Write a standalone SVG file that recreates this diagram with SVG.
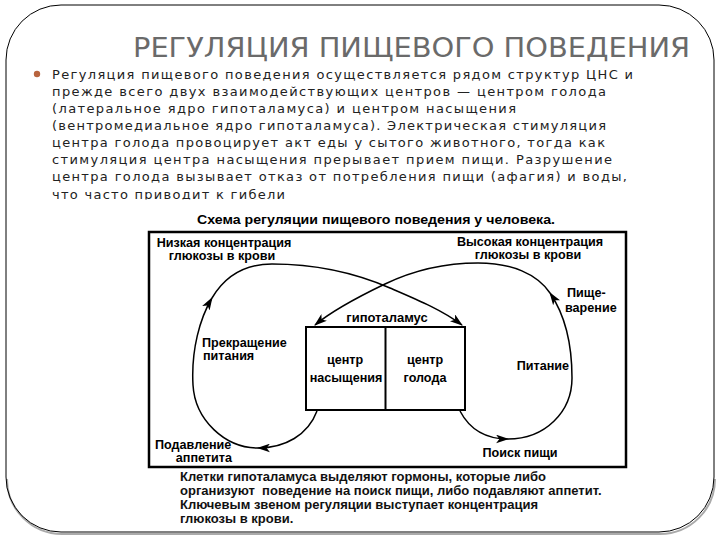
<svg xmlns="http://www.w3.org/2000/svg" width="720" height="540" viewBox="0 0 720 540">
<defs>
<style>
.body{font-family:"DejaVu Sans","Liberation Sans",sans-serif;font-size:13px;fill:#222}
.lbl{font-family:"Liberation Sans",Arial,sans-serif;font-size:12.6px;font-weight:bold;fill:#000}
.cap{font-family:"Liberation Sans",Arial,sans-serif;font-size:13px;font-weight:bold;fill:#111}
.curve{fill:none;stroke:#000;stroke-width:1.5}
.box{fill:#fff;stroke:#000;stroke-width:2}
</style>
<marker id="ah" viewBox="0 0 12 8" refX="11" refY="4" markerWidth="13" markerHeight="9" orient="auto" markerUnits="userSpaceOnUse">
<path d="M0,0 L12,4 L0,8 L3,4 z" fill="#000"/>
</marker>
<clipPath id="clipBody"><rect x="0" y="60" width="720" height="139.5"/></clipPath>
</defs>
<rect x="0" y="0" width="720" height="540" fill="#fff"/>
<g id="slide-frame">
<path d="M 6 477 A 55 55 0 0 0 61 532 L 659 532 A 55 55 0 0 0 714 477" transform="translate(1,2)" fill="none" stroke="#aaa" stroke-width="2"/>
<rect x="6" y="5" width="708" height="527" rx="55" ry="55" fill="none" stroke="#000" stroke-width="1"/>
</g>
<g id="title">
<text x="133" y="57" font-family="'Liberation Sans Narrow','DejaVu Sans Condensed','Liberation Sans',sans-serif" font-size="27" fill="#6a6a6a" textLength="557" lengthAdjust="spacingAndGlyphs">РЕГУЛЯЦИЯ ПИЩЕВОГО ПОВЕДЕНИЯ</text>
</g>
<g id="bullet-text" clip-path="url(#clipBody)">
<circle cx="37" cy="74" r="3.2" fill="#b8643e"/>
<text class="body" x="52" y="79" textLength="581" lengthAdjust="spacing">Регуляция пищевого поведения осуществляется рядом структур ЦНС и</text>
<text class="body" x="52" y="96" textLength="554" lengthAdjust="spacing">прежде всего двух взаимодействующих центров — центром голода</text>
<text class="body" x="52" y="113" textLength="464" lengthAdjust="spacing">(латеральное ядро гипоталамуса) и центром насыщения</text>
<text class="body" x="52" y="130" textLength="554" lengthAdjust="spacing">(вентромедиальное ядро гипоталамуса). Электрическая стимуляция</text>
<text class="body" x="52" y="147" textLength="553" lengthAdjust="spacing">центра голода провоцирует акт еды у сытого животного, тогда как</text>
<text class="body" x="52" y="164" textLength="560" lengthAdjust="spacing">стимуляция центра насыщения прерывает прием пищи. Разрушение</text>
<text class="body" x="52" y="181" textLength="575" lengthAdjust="spacing">центра голода вызывает отказ от потребления пищи (афагия) и воды,</text>
<text class="body" x="52" y="199" textLength="233" lengthAdjust="spacing">что часто приводит к гибели</text>
</g>
<g id="diagram-heading">
<text x="376" y="224" text-anchor="middle" font-family="'Liberation Sans',Arial,sans-serif" font-size="13" font-weight="bold" fill="#000" textLength="358" lengthAdjust="spacingAndGlyphs">Схема регуляции пищевого поведения у человека.</text>
</g>
<g id="diagram-frame">
<rect x="149" y="232" width="477" height="235" fill="none" stroke="#000" stroke-width="2.5"/>
</g>
<g id="connectors">
<path class="curve" d="M 317 411 C 308 435 285 448 258 448" marker-end="url(#ah)"/>
<path class="curve" d="M 258 448 C 225 448 195 420 193 385 C 191 350 200 318 212 298" marker-end="url(#ah)"/>
<path class="curve" d="M 212 298 C 225 276 245 264 272 264 C 320 264 360 275 390 288 C 418 300 442 310 462 325" marker-end="url(#ah)"/>
<path class="curve" d="M 460 411 C 470 430 487 439 508 439" marker-end="url(#ah)"/>
<path class="curve" d="M 508 439 C 545 439 572 412 572 378 C 572 340 563 312 550 293" marker-end="url(#ah)"/>
<path class="curve" d="M 550 293 C 537 274 512 263 478 263 C 440 263 410 272 385 284 C 360 296 333 310 315 325" marker-end="url(#ah)"/>
</g>
<g id="node-low-glucose">
<text class="lbl" x="224" y="247" text-anchor="middle">Низкая концентрация</text>
<text class="lbl" x="222" y="260" text-anchor="middle">глюкозы в крови</text>
</g>
<g id="node-high-glucose">
<text class="lbl" x="530" y="246" text-anchor="middle">Высокая концентрация</text>
<text class="lbl" x="528" y="259" text-anchor="middle">глюкозы в крови</text>
</g>
<g id="node-digestion">
<text class="lbl" x="567" y="297">Пище-</text>
<text class="lbl" x="565" y="312">варение</text>
</g>
<g id="node-hypothalamus">
<text x="387" y="322" text-anchor="middle" font-family="'Liberation Sans',Arial,sans-serif" font-size="13" font-weight="bold" fill="#000">гипоталамус</text>
<rect class="box" x="306" y="327" width="159" height="83"/>
<line x1="385.5" y1="327" x2="385.5" y2="410" stroke="#000" stroke-width="2"/>
</g>
<g id="node-satiety-center">
<text class="lbl" x="345" y="364" text-anchor="middle">центр</text>
<text class="lbl" x="346" y="382" text-anchor="middle">насыщения</text>
</g>
<g id="node-hunger-center">
<text class="lbl" x="425" y="364" text-anchor="middle">центр</text>
<text class="lbl" x="425" y="382" text-anchor="middle">голода</text>
</g>
<g id="node-stop-eating">
<text class="lbl" x="202" y="347">Прекращение</text>
<text class="lbl" x="203" y="360">питания</text>
</g>
<g id="node-eating">
<text class="lbl" x="569" y="370" text-anchor="end">Питание</text>
</g>
<g id="node-food-search">
<text class="lbl" x="520" y="457" text-anchor="middle">Поиск пищи</text>
</g>
<g id="node-appetite-suppression">
<text class="lbl" x="155" y="449" font-size="12">Подавление</text>
<text class="lbl" x="232" y="462" font-size="12" text-anchor="end">аппетита</text>
</g>
<g id="caption">
<text class="cap" x="180" y="481">Клетки гипоталамуса выделяют гормоны, которые либо</text>
<text class="cap" x="180" y="495" xml:space="preserve">организуют  поведение на поиск пищи, либо подавляют аппетит.</text>
<text class="cap" x="180" y="509">Ключевым звеном регуляции выступает концентрация</text>
<text class="cap" x="180" y="523">глюкозы в крови.</text>
</g>
</svg>
